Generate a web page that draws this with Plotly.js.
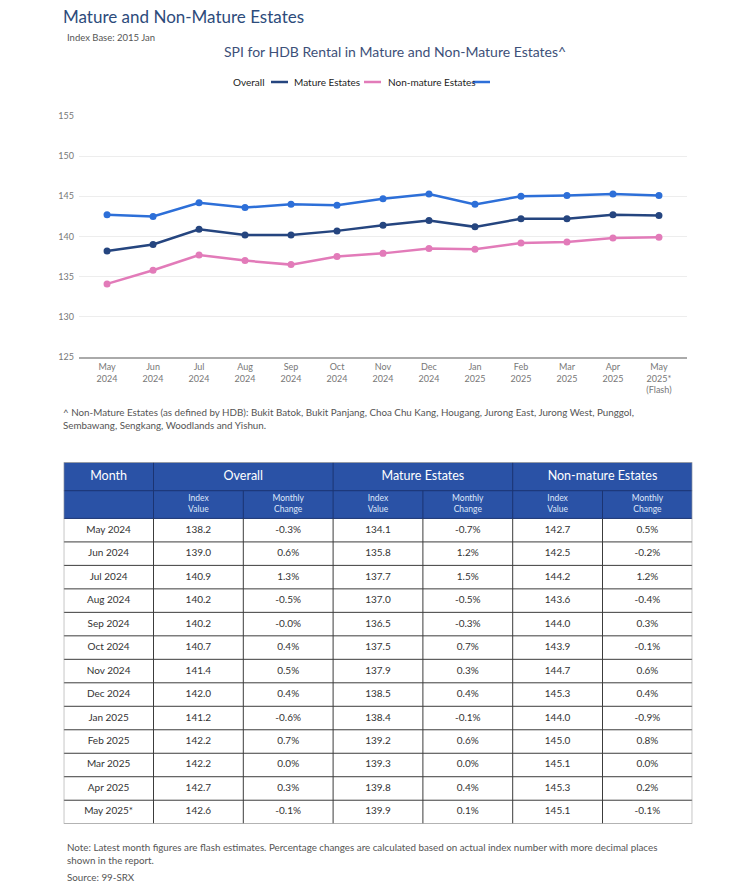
<!DOCTYPE html>
<html>
<head>
<meta charset="utf-8">
<script src="https://cdn.plot.ly/plotly-3.0.1.min.js"></script>
<style>html,body{margin:0;padding:0;background:#fff;}#chart{width:750px;height:891px;}</style>
</head>
<body>
<div id="chart"></div>
<script>
// ---- Data ----
var chartMonths = ["May<br>2024","Jun<br>2024","Jul<br>2024","Aug<br>2024","Sep<br>2024","Oct<br>2024","Nov<br>2024","Dec<br>2024","Jan<br>2025","Feb<br>2025","Mar<br>2025","Apr<br>2025","May<br>2025*<br>(Flash)"];
var tableMonths = ["May 2024","Jun 2024","Jul 2024","Aug 2024","Sep 2024","Oct 2024","Nov 2024","Dec 2024","Jan 2025","Feb 2025","Mar 2025","Apr 2025","May 2025*"];
var overall = [138.2,139.0,140.9,140.2,140.2,140.7,141.4,142.0,141.2,142.2,142.2,142.7,142.6];
var mature = [134.1,135.8,137.7,137.0,136.5,137.5,137.9,138.5,138.4,139.2,139.3,139.8,139.9];
var nonMature = [142.7,142.5,144.2,143.6,144.0,143.9,144.7,145.3,144.0,145.0,145.1,145.3,145.1];
var overallChg = ["-0.3%","0.6%","1.3%","-0.5%","-0.0%","0.4%","0.5%","0.4%","-0.6%","0.7%","0.0%","0.3%","-0.1%"];
var matureChg = ["-0.7%","1.2%","1.5%","-0.5%","-0.3%","0.7%","0.3%","0.4%","-0.1%","0.6%","0.0%","0.4%","0.1%"];
var nonMatureChg = ["0.5%","-0.2%","1.2%","-0.4%","0.3%","-0.1%","0.6%","0.4%","-0.9%","0.8%","0.0%","0.2%","-0.1%"];
var seriesNames = ["Overall","Mature Estates","Non-mature Estates"];
var groupHeaders = ["Month","Overall","Mature Estates","Non-mature Estates"];
var groupSpans = [1,2,2,2];
var subHeaders = ["","Index<br>Value","Monthly<br>Change","Index<br>Value","Monthly<br>Change","Index<br>Value","Monthly<br>Change"];
var yTicks = [125,130,135,140,145,150,155];

// ---- Styles / helpers ----
var W = 750, H = 891;
var colors = ["#25457f","#e27bb9","#2d6fd8"];
var FONT = "Lato, 'Open Sans', sans-serif";
function px(x){return x/W;}
function py(y){return 1 - y/H;}
function fmt(a){return a.map(function(v){return v.toFixed(1);});}

// ---- Line chart ----
var traces = [overall, mature, nonMature].map(function(s,i){
  return {
    type:"scatter", mode:"lines+markers", x:chartMonths, y:s, name:seriesNames[i],
    line:{color:colors[i], width:2.5}, marker:{color:colors[i], size:7},
    showlegend:false, xaxis:"x", yaxis:"y"
  };
});

// ---- Table drawn on its own axes (x2/y2): columns 0..7, data rows 0..13 ----
var columns = [tableMonths, fmt(overall), overallChg, fmt(mature), matureChg, fmt(nonMature), nonMatureChg];
var nCols = columns.length, nRows = tableMonths.length;
var h2 = 1.18, h1 = 1.21;           // header row heights in data-row units
var yHead2 = -h2/2, yHead1 = -h2 - h1/2, yTop = -h2 - h1;

var cx=[], cy=[], ct=[];
columns.forEach(function(col,c){ col.forEach(function(v,r){ cx.push(c+0.5); cy.push(r+0.5); ct.push(v); }); });
traces.push({type:"scatter", mode:"text", x:cx, y:cy, text:ct, textposition:"middle center",
  textfont:{family:FONT,size:10,color:"#333333"}, xaxis:"x2", yaxis:"y2", showlegend:false, hoverinfo:"skip"});

var sx=[], sy=[], st=[];
subHeaders.forEach(function(t,c){ sx.push(c+0.5); sy.push(yHead2); st.push(t); });
traces.push({type:"scatter", mode:"text", x:sx, y:sy, text:st, textposition:"middle center",
  textfont:{family:FONT,size:8.5,color:"#dfe7fa"}, xaxis:"x2", yaxis:"y2", showlegend:false, hoverinfo:"skip"});

var gx=[], gy=[], gt=[], start=0, groupEdges=[0];
groupHeaders.forEach(function(t,g){ gx.push(start+groupSpans[g]/2); gy.push(yHead1); gt.push(t); start+=groupSpans[g]; groupEdges.push(start); });
traces.push({type:"scatter", mode:"text", x:gx, y:gy, text:gt, textposition:"middle center",
  textfont:{family:FONT,size:12.5,color:"#ffffff"}, xaxis:"x2", yaxis:"y2", showlegend:false, hoverinfo:"skip"});

var headerBlue = "#2a52a6", headerLine = "#1b3472", cellLine = "#3c3c3c", outerLine = "#9a9a9a";
var shapes = [];
shapes.push({type:"rect", xref:"x2", yref:"y2", x0:0, x1:nCols, y0:yTop, y1:0, fillcolor:headerBlue, line:{width:0}, layer:"below"});
// horizontal lines
for (var r=1; r<nRows; r++) shapes.push({type:"line", xref:"x2", yref:"y2", x0:0, x1:nCols, y0:r, y1:r, line:{color:cellLine,width:1}});
shapes.push({type:"line", xref:"x2", yref:"y2", x0:0, x1:nCols, y0:-h2, y1:-h2, line:{color:headerLine,width:1}});
shapes.push({type:"line", xref:"x2", yref:"y2", x0:0, x1:nCols, y0:0, y1:0, line:{color:headerLine,width:1}});
// vertical lines
for (var c=1; c<nCols; c++){
  var isGroup = groupEdges.indexOf(c) >= 0;
  shapes.push({type:"line", xref:"x2", yref:"y2", x0:c, x1:c, y0:isGroup?yTop:-h2, y1:0, line:{color:headerLine,width:1}});
  shapes.push({type:"line", xref:"x2", yref:"y2", x0:c, x1:c, y0:0, y1:nRows, line:{color:cellLine,width:1}});
}
// outer border
shapes.push({type:"rect", xref:"x2", yref:"y2", x0:0, x1:nCols, y0:yTop, y1:nRows, line:{color:outerLine,width:1.2}, fillcolor:"rgba(0,0,0,0)"});

// legend samples (text followed by line sample, as in the original)
var legendLineX = [[271,288],[364,381],[473,490]];
legendLineX.forEach(function(p,i){
  shapes.push({type:"line", xref:"paper", yref:"paper", x0:px(p[0]), x1:px(p[1]), y0:py(82), y1:py(82), line:{color:colors[i],width:2.5}});
});

// ---- Texts ----
var ann = [];
function txt(t,x,y,size,color,anchor){
  ann.push({text:t, x:px(x), y:py(y), xref:"paper", yref:"paper", showarrow:false,
    xanchor:anchor||"left", yanchor:"middle", align:"left",
    font:{family:FONT,size:size,color:color}});
}
txt("Mature and Non-Mature Estates",61,16,17,"#2d4b7b");
txt("Index Base: 2015 Jan",65,37,9.5,"#555555");
txt("SPI for HDB Rental in Mature and Non-Mature Estates^",395,52,14,"#3d5079","center");
txt(seriesNames[0],231,82,10,"#222222");
txt(seriesNames[1],292,82,10,"#222222");
txt(seriesNames[2],386,82,10,"#222222");
txt("^ Non-Mature Estates (as defined by HDB): Bukit Batok, Bukit Panjang, Choa Chu Kang, Hougang, Jurong East, Jurong West, Punggol,<br>Sembawang, Sengkang, Woodlands and Yishun.",61,418,9.8,"#555555");
txt("Note: Latest month figures are flash estimates. Percentage changes are calculated based on actual index number with more decimal places<br>shown in the report.",65,853,9.8,"#555555");
txt("Source: 99-SRX",65,877,9.8,"#555555");

var layout = {
  width:W, height:H, margin:{l:0,r:0,t:0,b:0},
  paper_bgcolor:"#ffffff", plot_bgcolor:"rgba(0,0,0,0)",
  font:{family:FONT}, showlegend:false,
  xaxis:{domain:[px(79),px(687)], anchor:"y", type:"category", range:[-0.61,12.61],
    showgrid:false, zeroline:false, showline:true, linecolor:"#aaaaaa", linewidth:2,
    ticks:"", tickfont:{family:FONT,size:9,color:"#777777"}, fixedrange:true},
  yaxis:{domain:[py(357),py(116)], anchor:"x", range:[125,155], tickvals:yTicks,
    showgrid:true, gridcolor:"#ededed", gridwidth:1, zeroline:false, showline:false,
    ticks:"", ticklabelstandoff:4, tickfont:{family:FONT,size:9,color:"#777777"}, fixedrange:true},
  xaxis2:{domain:[px(63.7),px(692.3)], anchor:"y2", range:[0,nCols], visible:false, fixedrange:true},
  yaxis2:{domain:[py(823.7),py(462.3)], anchor:"x2", range:[nRows,yTop], visible:false, fixedrange:true},
  annotations:ann, shapes:shapes
};

Plotly.newPlot("chart", traces, layout, {displayModeBar:false, staticPlot:true});
</script>
</body>
</html>
